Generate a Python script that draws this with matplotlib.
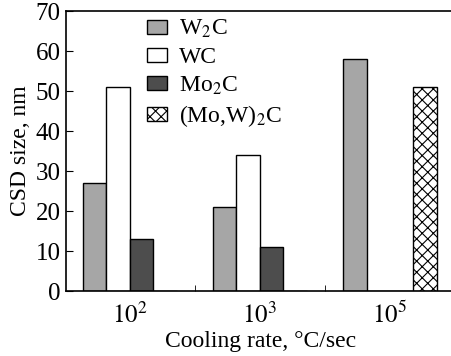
import matplotlib
matplotlib.use("Agg")
import matplotlib.pyplot as plt
import numpy as np

categories = ["$10^2$", "$10^3$", "$10^5$"]
series_names = ["W$_2$C", "WC", "Mo$_2$C", "(Mo,W)$_2$C"]
w2c = [27, 21, 58]
wc = [51, 34, 0]
mo2c = [13, 11, 0]
mow2c = [0, 0, 51]
y_ticks = [0, 10, 20, 30, 40, 50, 60, 70]

plt.rcParams['font.family'] = ['Liberation Serif', 'DejaVu Serif']
plt.rcParams['mathtext.fontset'] = 'stix'
plt.rcParams['mathtext.default'] = 'rm'
plt.rcParams['hatch.linewidth'] = 0.8

fig = plt.figure(figsize=(4.51, 3.56), dpi=100)
ax = fig.add_axes([66/451, (356-291)/356, (455-66)/451, (291-11)/356])

x = np.arange(len(categories))
bw = 0.18
styles = [
    dict(color="#a6a6a6", hatch=None),
    dict(color="white", hatch=None),
    dict(color="#4d4d4d", hatch=None),
    dict(color="white", hatch="xxx"),
]
data = [w2c, wc, mo2c, mow2c]
for i, (vals, st, name) in enumerate(zip(data, styles, series_names)):
    ax.bar(x + (i - 1.5) * bw, vals, width=bw, facecolor=st["color"],
           edgecolor="black", hatch=st["hatch"], linewidth=1.0, label=name)

ax.set_xlim(-0.49, 2.5)
ax.set_ylim(0, 70)
ax.set_yticks(y_ticks)
ax.set_xticks(x)
ax.set_xticklabels(categories)
ax.set_xticks([0.5, 1.5], minor=True)
ax.tick_params(axis='x', which='major', length=0, labelsize=18, pad=8)
ax.tick_params(axis='x', which='minor', direction='in', length=4)
ax.tick_params(axis='y', direction='in', length=5, labelsize=18, pad=4)
ax.spines['right'].set_visible(False)
for s in ['left', 'bottom', 'top']:
    ax.spines[s].set_linewidth(1.2)

ax.set_xlabel("Cooling rate, °C/sec", fontsize=17, labelpad=2)
ax.set_ylabel("CSD size, nm", fontsize=17, labelpad=3)

leg = ax.legend(loc='upper left', bbox_to_anchor=(0.19, 1.0), frameon=False,
                fontsize=17, handlelength=0.85, handleheight=0.55,
                handletextpad=0.5, labelspacing=0.28, borderaxespad=0.0,
                borderpad=0.3)

fig.savefig("out.png", dpi=100)
